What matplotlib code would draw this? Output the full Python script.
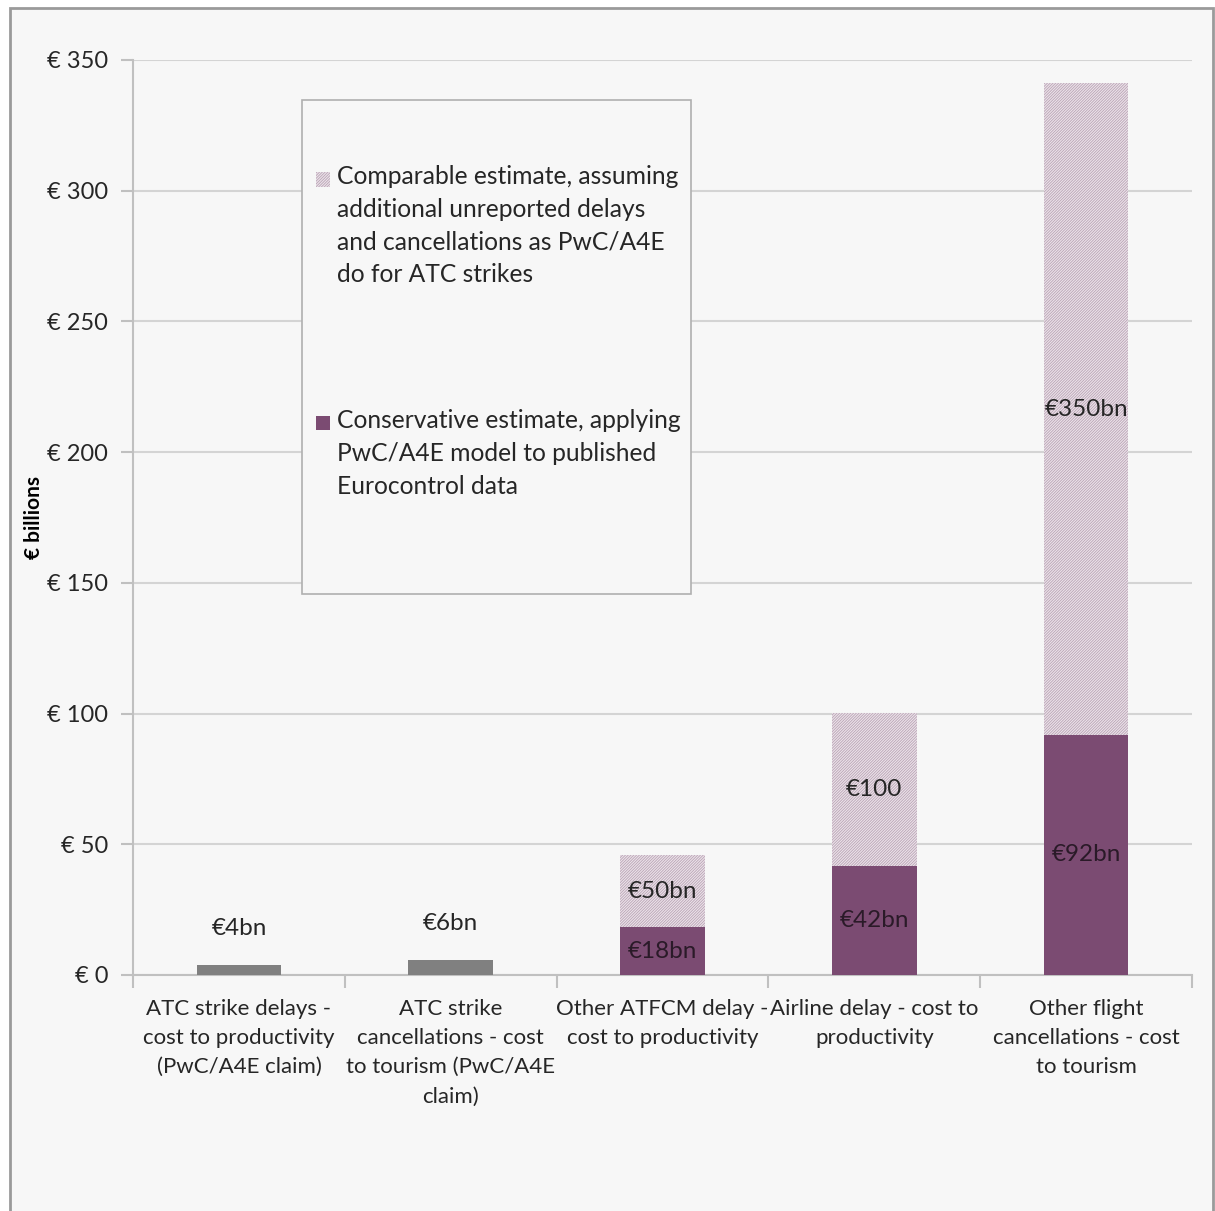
import matplotlib.pyplot as plt
import matplotlib.patches as mpatches
from matplotlib.legend_handler import HandlerPatch
from matplotlib.ticker import FuncFormatter, FixedLocator
import numpy as np

plt.rcParams['font.family'] = ['Lato', 'DejaVu Sans']
plt.rcParams['hatch.linewidth'] = 0.6

categories = ['ATC strike delays -\ncost to productivity\n(PwC/A4E claim)',
              'ATC strike\ncancellations - cost\nto tourism (PwC/A4E\nclaim)',
              'Other ATFCM delay -\ncost to productivity',
              'Airline delay - cost to\nproductivity',
              'Other flight\ncancellations - cost\nto tourism']
pwc_claim = [3.7, 5.6, 0, 0, 0]
conservative = [0, 0, 18.3, 41.6, 91.8]
comparable_total = [0, 0, 45.8, 100.2, 341]
pwc_labels = ['€4bn', '€6bn', '', '', '']
conservative_labels = ['', '', '€18bn', '€42bn', '€92bn']
comparable_labels = ['', '', '€50bn', '€100', '€350bn']

legend_comparable = 'Comparable estimate, assuming\nadditional unreported delays\nand cancellations as PwC/A4E\ndo for ATC strikes'
legend_conservative = 'Conservative estimate, applying\nPwC/A4E model to published\nEurocontrol data'

bg = '#f7f7f7'
purple = '#7b4b72'
hatch_face = '#ece3ea'
hatch_edge = '#b9a4b5'
grey_bar = '#808080'
text_col = '#262626'
hatch = '/' * 12

fig = plt.figure(figsize=(12.15, 12.11), dpi=100)
fig.patch.set_facecolor('white')
border = mpatches.Rectangle((0.008, -0.01), 0.990, 1.003, transform=fig.transFigure,
                            facecolor=bg, edgecolor='#9a9a9a', linewidth=2, zorder=-10)
fig.patches.append(border)
ax = fig.add_axes([0.1095, 0.1949, 0.8716, 0.7556])
ax.set_facecolor(bg)

x = np.arange(len(categories))
width = 0.4
upper = np.array(comparable_total) - np.array(conservative)
ax.bar(x, pwc_claim, width, color=grey_bar, zorder=3)
ax.bar(x, conservative, width, color=purple, zorder=3)
ax.bar(x, upper, width, bottom=conservative, facecolor=hatch_face, edgecolor=hatch_edge,
       hatch=hatch, linewidth=0, zorder=3)

fs = 16
bfs = 17.5
for i in range(len(categories)):
    if pwc_labels[i]:
        ax.text(x[i], pwc_claim[i] + 14, pwc_labels[i], ha='center', va='center', fontsize=bfs, color=text_col)
    if conservative_labels[i]:
        ax.text(x[i], conservative[i] / 2, conservative_labels[i], ha='center', va='center',
                fontsize=bfs, color='#2a1a28')
    if comparable_labels[i]:
        ax.text(x[i], (conservative[i] + comparable_total[i]) / 2, comparable_labels[i],
                ha='center', va='center', fontsize=bfs, color=text_col)

ax.set_xlim(-0.5, len(categories) - 0.5)
ax.set_ylim(0, 350)
ax.set_yticks(np.arange(0, 351, 50))
ax.yaxis.set_major_formatter(FuncFormatter(lambda v, p: '€ %d' % v))
ax.grid(axis='y', color='#d4d4d4', linewidth=1.5, zorder=0)
ax.set_axisbelow(True)
ax.set_xticks(x)
ax.set_xticklabels(categories, fontsize=fs, color=text_col, linespacing=1.58)
ax.xaxis.set_minor_locator(FixedLocator(np.arange(-0.5, len(categories), 1)))
ax.tick_params(axis='x', which='major', length=0, pad=17)
ax.tick_params(axis='x', which='minor', length=9, color='#c0c0c0', width=1.5)
ax.tick_params(axis='y', length=9, color='#c0c0c0', width=1.5, labelsize=17, labelcolor=text_col, pad=9)
for s in ['top', 'right']:
    ax.spines[s].set_visible(False)
for s in ['left', 'bottom']:
    ax.spines[s].set_color('#c0c0c0')
    ax.spines[s].set_linewidth(1.5)
ax.set_ylabel('€ billions', fontsize=15, fontweight='bold', color='black')
ax.yaxis.set_label_coords(-0.084, 0.5)

# legend: box plus entries, marker next to first text line like Excel
ax.add_patch(mpatches.Rectangle((0.16, 0.416), 0.367, 0.540, transform=ax.transAxes,
                                facecolor=bg, edgecolor='#b0b0b0', linewidth=1.2, zorder=4))
lfs = 17.7
lsp = 1.52
line_h = 0.84 * lsp * lfs


def top_marker(legend, orig_handle, xdescent, ydescent, width, height, fontsize):
    n = len(orig_handle.get_label().split('\n'))
    shift = (n - 1) / 2 * line_h
    return mpatches.Rectangle((-xdescent, -ydescent + shift), width, height)


h_comp = mpatches.Patch(facecolor=hatch_face, edgecolor=hatch_edge, hatch=hatch, linewidth=0,
                        label=legend_comparable)
h_cons = mpatches.Patch(facecolor=purple, linewidth=0, label=legend_conservative)
hm = HandlerPatch(patch_func=top_marker)
leg = ax.legend([h_comp, h_cons], [legend_comparable, legend_conservative], loc='upper left',
                bbox_to_anchor=(0.1615, 0.899), frameon=False, fontsize=lfs, labelspacing=5.0,
                handlelength=0.55, handleheight=0.55, handletextpad=0.3, borderpad=0,
                handler_map={h_comp: hm, h_cons: hm})
leg.set_zorder(5)
for t in leg.get_texts():
    t.set_linespacing(lsp)
    t.set_color(text_col)

fig.savefig('out.png', dpi=100, facecolor=fig.get_facecolor())
